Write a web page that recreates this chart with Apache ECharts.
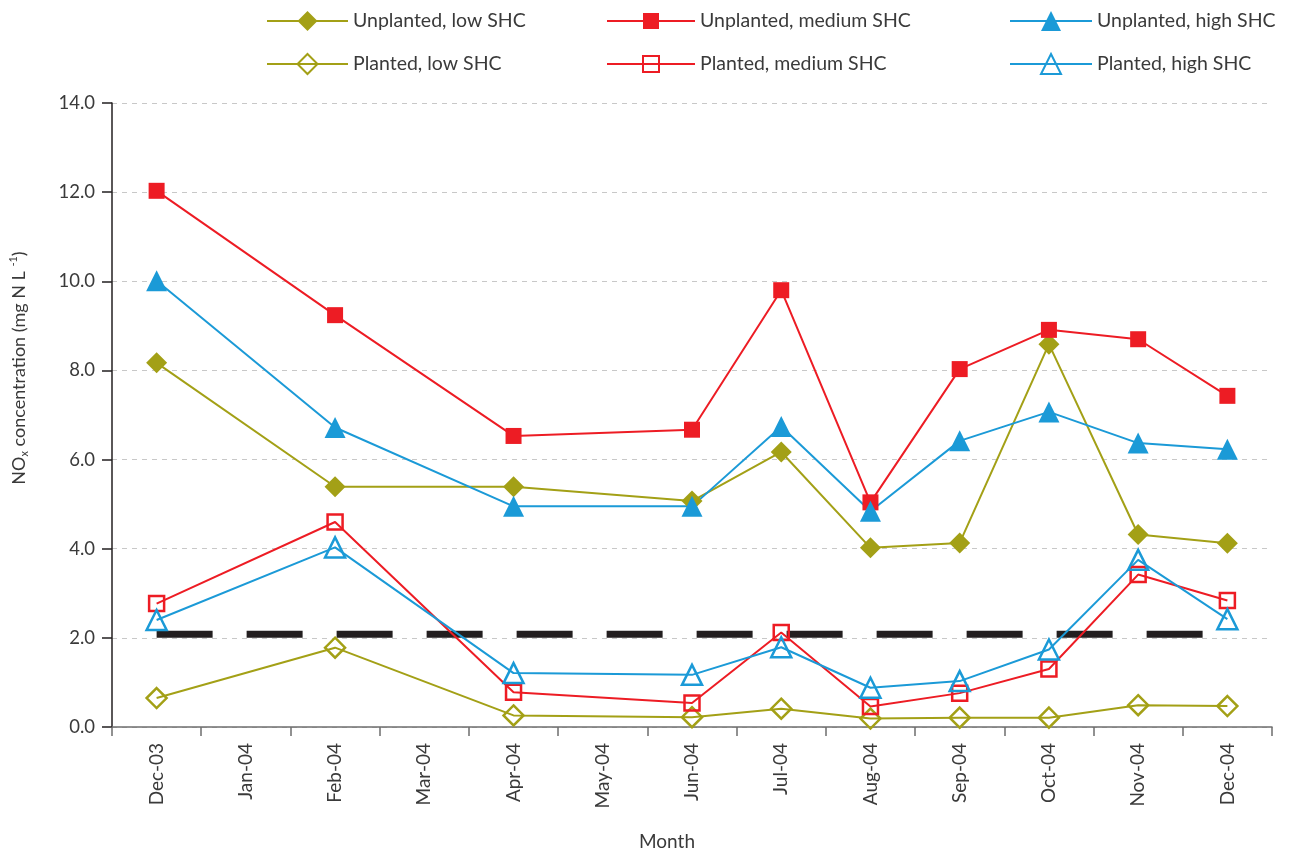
<!DOCTYPE html>
<html>
<head>
<meta charset="utf-8">
<script src="https://cdn.jsdelivr.net/npm/echarts@6/dist/echarts.min.js"></script>
<style>
  html, body { margin: 0; padding: 0; background: #fff; }
  #chart { width: 1293px; height: 856px; }
</style>
</head>
<body>
<div id="chart"></div>
<script>
const months = ['Dec-03','Jan-04','Feb-04','Mar-04','Apr-04','May-04','Jun-04','Jul-04','Aug-04','Sep-04','Oct-04','Nov-04','Dec-04'];
const yTicks = [0, 2, 4, 6, 8, 10, 12, 14];

const unplantedLow    = [8.17, null, 5.39, null, 5.39, null, 5.07, 6.17, 4.02, 4.13, 8.59, 4.32, 4.12];
const unplantedMedium = [12.03, null, 9.24, null, 6.53, null, 6.67, 9.80, 5.04, 8.03, 8.91, 8.70, 7.43];
const unplantedHigh   = [10.01, null, 6.72, null, 4.95, null, 4.95, 6.74, 4.84, 6.42, 7.07, 6.37, 6.23];
const plantedLow      = [0.65, null, 1.78, null, 0.26, null, 0.22, 0.41, 0.19, 0.21, 0.21, 0.49, 0.47];
const plantedMedium   = [2.77, null, 4.60, null, 0.78, null, 0.54, 2.12, 0.46, 0.76, 1.30, 3.42, 2.84];
const plantedHigh     = [2.40, null, 4.03, null, 1.21, null, 1.17, 1.79, 0.88, 1.03, 1.74, 3.75, 2.42];
const referenceLevel  = [2.08, 2.08, 2.08, 2.08, 2.08, 2.08, 2.08, 2.08, 2.08, 2.08, 2.08, 2.08, 2.08];

const OLIVE = '#a3a016';
const RED = '#ed1c24';
const BLUE = '#1b9ad7';
const TEXT = '#3a3a3a';
const FONT = 'Lato';

function filled(name, data, color, symbol, size) {
  return {
    name, type: 'line', data, connectNulls: true,
    symbol, symbolSize: size,
    lineStyle: { color, width: 2 },
    itemStyle: { color, borderWidth: 0 },
    emphasis: { disabled: true },
    z: 3
  };
}
function hollow(name, data, color, symbol, size) {
  return {
    name, type: 'line', data, connectNulls: true,
    symbol, symbolSize: size,
    lineStyle: { color, width: 2 },
    itemStyle: { color: 'rgba(255,255,255,0)', borderColor: color, borderWidth: 2.5 },
    emphasis: { disabled: true },
    z: 3
  };
}

const legendBase = {
  orient: 'vertical',
  selectedMode: false,
  textStyle: { fontFamily: FONT, fontSize: 19.5, color: TEXT, padding: [0, 0, 0, 0] }
};

const chart = echarts.init(document.getElementById('chart'), null, { renderer: 'canvas' });
chart.setOption({
  animation: false,
  backgroundColor: '#fff',
  textStyle: { fontFamily: FONT },
  legend: [
    Object.assign({}, legendBase, { left: 261, top: 6, itemWidth: 81, itemHeight: 25, itemGap: 22, data: ['Unplanted, low SHC', 'Planted, low SHC'] }),
    Object.assign({}, legendBase, { left: 601, top: 6, itemWidth: 88, itemHeight: 20, itemGap: 23, data: ['Unplanted, medium SHC', 'Planted, medium SHC'] }),
    Object.assign({}, legendBase, { left: 1004, top: 6, itemWidth: 82, itemHeight: 25, itemGap: 22, data: ['Unplanted, high SHC', 'Planted, high SHC'] })
  ],
  grid: { left: 110, right: 21, top: 103, bottom: 128 },
  xAxis: {
    type: 'category', data: months, boundaryGap: true,
    name: 'Month', nameLocation: 'middle', nameGap: 105,
    nameTextStyle: { fontFamily: FONT, fontSize: 19, color: TEXT, padding: [0, 50, 0, 0] },
    axisLine: { lineStyle: { color: '#6d6d6d', width: 1.5 } },
    axisTick: { show: true, length: 9, lineStyle: { color: '#6d6d6d', width: 1.5 } },
    axisLabel: { rotate: 90, margin: 16, fontFamily: FONT, fontSize: 19, color: TEXT, interval: 0 },
    splitLine: { show: false }
  },
  yAxis: {
    type: 'value', min: 0, max: 14, interval: 2,
    name: '{a|NO}{s|x}{a| concentration (mg N L }{p|-1}{a|)}',
    nameLocation: 'middle', nameGap: 82, nameRotate: 90,
    nameTextStyle: {
      fontFamily: FONT, fontSize: 18, color: TEXT, padding: [0, 0, 0, 94],
      rich: {
        a: { fontFamily: FONT, fontSize: 18, color: TEXT, lineHeight: 22 },
        s: { fontFamily: FONT, fontSize: 11, color: TEXT, lineHeight: 12, verticalAlign: 'bottom' },
        p: { fontFamily: FONT, fontSize: 11, color: TEXT, lineHeight: 12, verticalAlign: 'top' }
      }
    },
    axisLine: { show: true, lineStyle: { color: '#231f20', width: 1.5 } },
    axisTick: { show: true, length: 10, lineStyle: { color: '#231f20', width: 1.5 } },
    axisLabel: {
      margin: 17, fontFamily: FONT, fontSize: 18.5, color: TEXT,
      formatter: v => yTicks.indexOf(v) >= 0 ? v.toFixed(1) : ''
    },
    splitLine: { show: true, lineStyle: { color: '#c8c8c8', width: 1, type: [5, 5] } }
  },
  series: [
    {
      name: 'reference', type: 'line', data: referenceLevel, symbol: 'none', silent: true,
      lineStyle: { color: '#231f20', width: 7, type: [56, 34], cap: 'butt' },
      emphasis: { disabled: true }, z: 2
    },
    filled('Unplanted, low SHC', unplantedLow, OLIVE, 'diamond', 21),
    filled('Unplanted, medium SHC', unplantedMedium, RED, 'rect', 16),
    filled('Unplanted, high SHC', unplantedHigh, BLUE, 'triangle', 21),
    hollow('Planted, low SHC', plantedLow, OLIVE, 'diamond', 20),
    hollow('Planted, medium SHC', plantedMedium, RED, 'rect', 15),
    hollow('Planted, high SHC', plantedHigh, BLUE, 'triangle', 20)
  ]
});
</script>
</body>
</html>
